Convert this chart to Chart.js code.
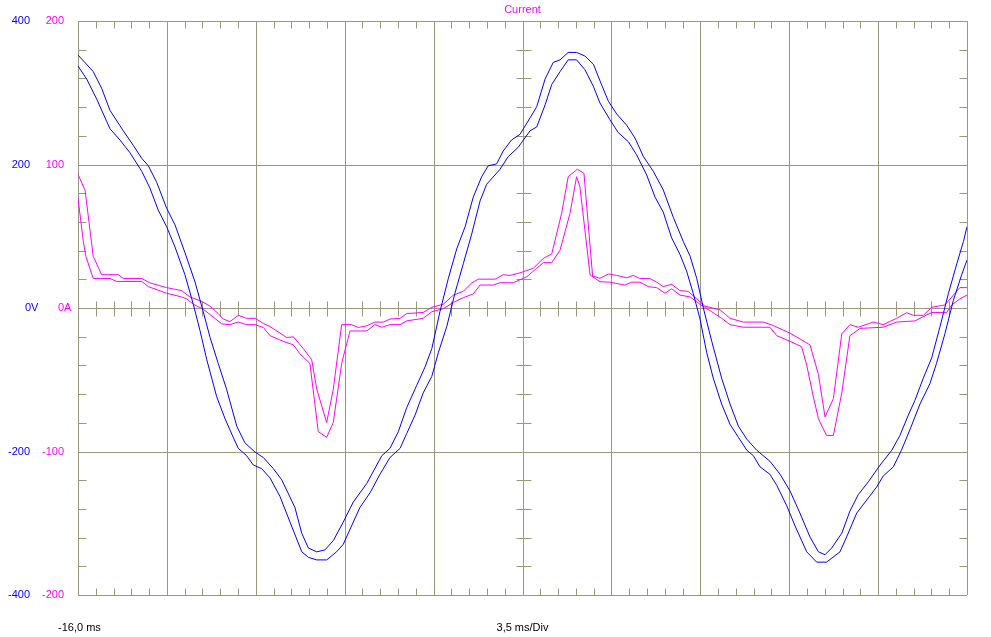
<!DOCTYPE html>
<html>
<head>
<meta charset="utf-8">
<script src="https://cdn.jsdelivr.net/npm/chart.js@4"></script>
<style>
  html, body { margin: 0; padding: 0; background: #fff; }
  canvas { display: block; }
</style>
</head>
<body>
<canvas id="scope" width="991" height="637"></canvas>
<script>
// time base: -16 ms start, 3.5 ms per division, 10 divisions
const timeStart = -16
const timePerDiv = 3.5
const timeDivs = 10

const voltTicks = [400, 200, 0, -200, -400]
const voltLabels = ['400', '200', '0V', '-200', '-400']
const ampTicks = [200, 100, 0, -100, -200]
const ampLabels = ['200', '100', '0A', '-100', '-200']

// voltage envelope (upper / lower trace), ms and V
const voltMaxT = [-16.00, -15.40, -15.07, -14.74, -14.22, -13.82, -13.49, -13.23, -12.90, -12.51, -12.18, -11.79, -11.39, -11.07, -10.80, -10.48, -10.15, -9.75, -9.43, -9.03, -8.70, -8.31, -7.98, -7.46, -7.19, -6.93, -6.60, -6.28, -5.95, -5.56, -5.16, -4.63, -4.04, -3.72, -3.39, -3.06, -2.67, -2.34, -2.07, -1.75, -1.42, -1.09, -0.76, -0.44, -0.11, 0.15, 0.48, 0.74, 1.07, 1.40, 1.80, 2.06, 2.39, 2.71, 2.98, 3.30, 3.63, 3.96, 4.29, 4.55, 4.88, 5.21, 5.60, 5.93, 6.26, 6.65, 7.04, 7.44, 7.83, 8.10, 8.36, 8.62, 8.95, 9.34, 9.67, 10.00, 10.33, 10.72, 11.24, 11.64, 12.03, 12.42, 12.82, 13.15, 13.41, 13.67, 14.07, 14.39, 14.72, 15.12, 15.58, 16.04, 16.36, 16.69, 16.95, 17.28, 17.61, 17.94, 18.27, 18.60, 18.86, 19.00]
const voltMaxV = [352.6, 329.5, 306.3, 275.4, 247.1, 226.5, 208.5, 198.2, 175.0, 139.0, 115.8, 77.2, 36.0, -5.1, -41.2, -77.2, -113.3, -164.7, -187.9, -200.8, -208.5, -223.9, -239.4, -278.0, -314.0, -334.6, -339.8, -337.2, -324.3, -298.6, -270.3, -244.5, -205.9, -195.6, -172.5, -139.0, -108.1, -82.4, -56.6, -5.1, 41.2, 82.4, 113.3, 154.4, 182.8, 198.2, 200.8, 218.8, 234.2, 242.0, 265.1, 280.6, 319.2, 342.3, 345.9, 356.2, 356.2, 351.1, 339.8, 316.6, 288.3, 270.3, 254.8, 236.8, 211.1, 190.5, 164.7, 126.1, 92.7, 72.1, 41.2, 0, -46.3, -97.8, -133.8, -164.7, -182.8, -198.2, -213.6, -231.7, -254.8, -285.7, -319.2, -339.8, -343.9, -334.6, -314.0, -283.1, -260.0, -242.0, -218.8, -198.2, -177.6, -149.3, -128.7, -97.8, -69.5, -25.7, 20.6, 61.8, 92.7, 113.3]

const voltMinT = [-16.00, -15.66, -15.26, -14.87, -14.74, -14.35, -13.95, -13.49, -13.17, -12.84, -12.51, -12.18, -11.79, -11.46, -11.20, -10.93, -10.54, -10.21, -9.89, -9.69, -9.36, -9.10, -8.77, -8.44, -8.05, -7.65, -7.19, -6.93, -6.60, -6.21, -5.82, -5.56, -5.23, -4.90, -4.50, -4.11, -3.72, -3.32, -3.06, -2.73, -2.41, -2.07, -1.81, -1.48, -1.16, -0.83, -0.50, -0.17, 0.09, 0.61, 0.94, 1.33, 1.80, 2.06, 2.39, 2.65, 2.98, 3.30, 3.63, 3.96, 4.29, 4.55, 4.94, 5.27, 5.67, 5.99, 6.39, 6.72, 7.04, 7.37, 7.70, 7.96, 8.22, 8.49, 8.75, 9.01, 9.34, 9.67, 10.00, 10.33, 10.59, 10.85, 11.24, 11.51, 11.90, 12.23, 12.69, 13.08, 13.47, 14.00, 14.26, 14.66, 15.05, 15.44, 15.70, 16.10, 16.42, 16.75, 17.15, 17.54, 17.80, 18.13, 18.46, 18.79, 19.00]
const voltMinV = [337.2, 319.2, 290.9, 260.0, 249.7, 234.2, 216.2, 190.5, 167.3, 136.4, 113.3, 84.9, 46.3, 5.1, -30.9, -72.1, -123.6, -154.4, -180.2, -195.6, -205.9, -218.8, -223.9, -236.8, -262.5, -298.6, -339.8, -347.5, -351.1, -351.1, -339.8, -329.5, -303.7, -278.0, -257.4, -231.7, -208.5, -195.6, -175.0, -149.3, -118.4, -95.2, -61.8, -25.7, 20.6, 61.8, 103.0, 149.3, 172.5, 193.1, 211.1, 223.9, 247.1, 252.3, 283.1, 311.5, 329.5, 345.9, 345.9, 332.0, 308.9, 285.7, 262.5, 244.5, 231.7, 213.6, 185.3, 154.4, 133.8, 97.8, 74.6, 51.5, 20.6, -15.4, -61.8, -97.8, -133.8, -162.2, -180.2, -198.2, -205.9, -221.4, -231.7, -247.1, -275.4, -303.7, -339.8, -354.2, -354.2, -339.8, -319.2, -285.7, -267.7, -249.7, -234.2, -221.4, -198.2, -169.9, -133.8, -105.5, -77.2, -36.0, 10.3, 46.3, 66.9]

// current envelope (upper / lower trace), ms and A
const ampMaxT = [-16.00, -15.72, -15.40, -15.07, -14.41, -14.22, -13.49, -13.17, -12.51, -11.92, -11.59, -11.13, -10.80, -10.48, -10.28, -10.02, -9.69, -9.36, -9.03, -8.70, -8.44, -7.78, -7.52, -7.13, -6.80, -6.60, -6.21, -5.95, -5.62, -5.23, -4.96, -4.63, -4.31, -3.98, -3.72, -3.32, -3.06, -2.41, -2.07, -1.62, -1.22, -0.83, -0.50, -0.24, 0.42, 0.74, 1.01, 1.40, 1.93, 2.32, 2.65, 3.04, 3.30, 3.66, 3.92, 4.26, 4.55, 4.88, 5.21, 5.60, 5.86, 6.12, 6.51, 6.78, 7.04, 7.37, 7.70, 8.02, 8.36, 8.68, 9.28, 9.67, 10.19, 10.98, 11.31, 12.03, 12.82, 13.15, 13.41, 13.74, 14.07, 14.39, 14.72, 15.31, 15.70, 16.23, 16.62, 16.89, 17.28, 17.61, 18.13, 18.72, 19.00]
const ampMaxA = [93.2, 81.9, 36.0, 23.2, 23.2, 20.6, 20.6, 17.5, 14.2, 12.1, 7.7, 4.6, 1.3, -3.9, -7.7, -9.5, -5.1, -7.2, -7.2, -10.8, -12.9, -20.6, -20.1, -28.3, -36.0, -56.6, -79.8, -56.6, -11.6, -11.6, -13.6, -12.4, -9.8, -9.8, -7.7, -7.2, -3.9, -3.1, 0.5, 2.6, 9.0, 11.6, 17.5, 20.1, 20.1, 23.2, 22.7, 24.5, 27.7, 34.6, 37.6, 66.0, 91.5, 96.7, 93.9, 22.3, 20.7, 23.7, 22.7, 21.1, 22.7, 20.6, 20.6, 18.0, 14.9, 16.5, 12.1, 11.6, 6.4, 1.3, -1.3, -7.2, -9.8, -9.8, -11.8, -17.5, -25.7, -46.3, -75.9, -63.1, -18.0, -11.6, -13.4, -9.8, -11.6, -7.2, -3.3, -5.1, -5.1, 0.5, 2.1, 14.2, 14.2]

const ampMinT = [-16.00, -15.79, -15.69, -15.40, -14.74, -14.48, -13.49, -13.23, -12.51, -11.92, -11.72, -11.46, -11.07, -10.67, -10.34, -10.02, -9.69, -9.36, -9.03, -8.70, -8.44, -7.92, -7.52, -7.26, -6.87, -6.54, -6.21, -5.95, -5.62, -5.29, -4.63, -4.31, -4.04, -3.72, -3.32, -3.06, -2.41, -2.07, -1.62, -1.22, -0.83, -0.44, -0.17, 0.35, 0.61, 1.14, 1.67, 2.06, 2.32, 2.65, 2.98, 3.37, 3.63, 3.76, 4.16, 4.55, 4.94, 5.53, 5.80, 6.12, 6.45, 6.78, 7.11, 7.37, 7.70, 8.10, 8.49, 8.95, 9.34, 9.67, 10.19, 11.24, 11.51, 12.03, 12.49, 12.69, 12.95, 13.15, 13.47, 13.74, 14.07, 14.39, 14.79, 15.70, 16.23, 16.95, 17.61, 18.20, 18.40, 18.72, 19.00]
const ampMinA = [76.7, 46.3, 36.0, 20.6, 20.6, 18.5, 18.5, 14.9, 10.3, 7.7, 6.4, 2.6, -0.8, -6.4, -11.1, -11.6, -9.8, -11.6, -11.6, -13.6, -19.3, -23.2, -25.7, -32.0, -38.6, -86.2, -90.1, -79.8, -38.6, -16.0, -16.0, -11.6, -13.4, -11.6, -11.6, -9.0, -7.2, -2.6, -0.5, 3.9, 7.2, 9.8, 16.0, 16.0, 17.6, 17.6, 21.8, 27.7, 31.6, 31.6, 40.4, 66.0, 91.5, 84.5, 23.0, 18.3, 18.0, 16.0, 18.0, 18.0, 14.9, 14.2, 10.3, 13.4, 9.0, 7.7, 2.6, -2.6, -7.2, -11.6, -13.4, -13.4, -19.3, -23.2, -27.0, -39.9, -61.8, -77.2, -88.8, -88.8, -59.2, -19.3, -14.2, -13.4, -9.8, -9.0, -3.1, -3.1, 2.1, 6.4, 9.0]

const gridColor = '#99997a'
const voltColor = '#0000ff'
const ampColor = '#ff00ff'
const font = '11px "Liberation Sans", Arial, sans-serif'

const toPoints = (ts, vs) => ts.map((t, i) => ({ x: t, y: vs[i] }))

function trace(label, ts, vs, color, axis) {
  return {
    label,
    data: toPoints(ts, vs),
    yAxisID: axis,
    borderColor: color,
    backgroundColor: color,
    borderWidth: 1,
    pointRadius: 0,
    tension: 0,
    fill: false,
  }
}

const scopeGrid = {
  id: 'scopeGrid',
  beforeDatasetsDraw(chart) {
    const { ctx, chartArea: a, scales } = chart
    const xs = scales.x
    const ys = scales.yV
    const px = v => Math.round(xs.getPixelForValue(v)) + 0.5
    const py = v => Math.round(ys.getPixelForValue(v)) + 0.5
    const tick = 7
    ctx.save()
    ctx.strokeStyle = gridColor
    ctx.lineWidth = 1
    ctx.beginPath()
    // major lines
    for (let i = 0; i <= timeDivs; i++) {
      const x = px(timeStart + i * timePerDiv)
      ctx.moveTo(x, a.top); ctx.lineTo(x, a.bottom)
    }
    for (const v of voltTicks) {
      const y = py(v)
      ctx.moveTo(a.left, y); ctx.lineTo(a.right, y)
    }
    // minor ticks along x
    const midY = py(0)
    for (let i = 1; i < timeDivs * 5; i++) {
      if (i % 5 === 0) continue
      const x = px(timeStart + i * timePerDiv / 5)
      ctx.moveTo(x, py(400)); ctx.lineTo(x, py(400) + tick)
      ctx.moveTo(x, py(-400)); ctx.lineTo(x, py(-400) - tick)
      ctx.moveTo(x, midY - tick); ctx.lineTo(x, midY + tick + 1)
    }
    // minor ticks along y
    const midX = px(timeStart + timePerDiv * timeDivs / 2)
    for (let v = -360; v < 400; v += 40) {
      if (v % 200 === 0) continue
      const y = py(v)
      ctx.moveTo(px(timeStart), y); ctx.lineTo(px(timeStart) + tick + 1, y)
      ctx.moveTo(px(timeStart + timePerDiv * timeDivs), y); ctx.lineTo(px(timeStart + timePerDiv * timeDivs) - tick - 1, y)
      ctx.moveTo(midX - tick, y); ctx.lineTo(midX + tick + 1, y)
    }
    ctx.stroke()
    ctx.restore()
  },
  afterDraw(chart) {
    const { ctx, chartArea: a, scales } = chart
    ctx.save()
    ctx.font = font
    ctx.textBaseline = 'middle'
    voltTicks.forEach((v, i) => {
      const y = scales.yV.getPixelForValue(v)
      const zero = v === 0
      ctx.fillStyle = voltColor
      ctx.textAlign = zero ? 'left' : 'right'
      ctx.fillText(voltLabels[i], zero ? 25 : 30, y)
    })
    ampTicks.forEach((v, i) => {
      const y = scales.yI.getPixelForValue(v)
      const zero = v === 0
      ctx.fillStyle = ampColor
      ctx.textAlign = zero ? 'left' : 'right'
      ctx.fillText(ampLabels[i], zero ? 58 : 64, y)
    })
    const midX = scales.x.getPixelForValue(timeStart + timePerDiv * timeDivs / 2)
    ctx.fillStyle = ampColor
    ctx.textAlign = 'center'
    ctx.fillText('Current', midX, 10)
    ctx.fillStyle = '#000'
    ctx.fillText('3,5 ms/Div', midX, 628)
    ctx.textAlign = 'left'
    ctx.fillText('-16,0 ms', 58, 628)
    ctx.restore()
  },
}

new Chart(document.getElementById('scope').getContext('2d'), {
  type: 'line',
  data: {
    datasets: [
      trace('Voltage max', voltMaxT, voltMaxV, voltColor, 'yV'),
      trace('Voltage min', voltMinT, voltMinV, voltColor, 'yV'),
      trace('Current max', ampMaxT, ampMaxA, ampColor, 'yI'),
      trace('Current min', ampMinT, ampMinA, ampColor, 'yI'),
    ],
  },
  options: {
    responsive: false,
    animation: false,
    events: [],
    layout: { padding: { left: 78, top: 21, right: 24, bottom: 42 } },
    plugins: { legend: { display: false }, tooltip: { enabled: false } },
    scales: {
      x: { type: 'linear', min: timeStart, max: timeStart + timePerDiv * timeDivs, display: false },
      yV: { type: 'linear', min: -400, max: 400, display: false },
      yI: { type: 'linear', min: -200, max: 200, display: false },
    },
  },
  plugins: [scopeGrid],
})
</script>
</body>
</html>
